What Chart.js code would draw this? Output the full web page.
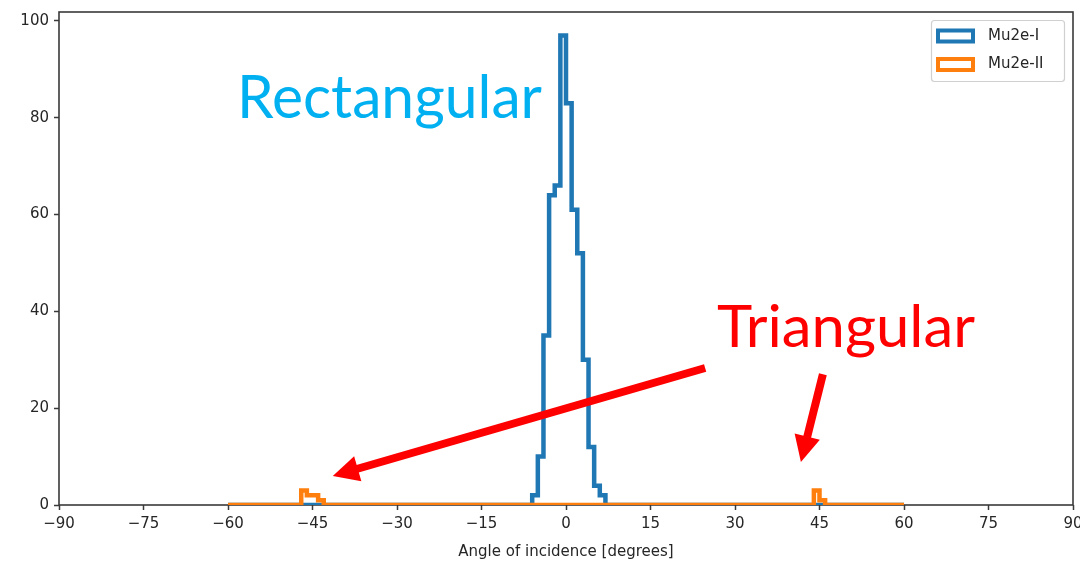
<!DOCTYPE html>
<html><head><meta charset="utf-8">
<script src="https://cdn.jsdelivr.net/npm/chart.js@4/dist/chart.umd.min.js"></script>
<style>html,body{margin:0;padding:0;background:#fff;}</style>
</head><body>
<canvas id="c" width="1080" height="562"></canvas>
<script>
// ---- data (histogram step outlines: bin edges in degrees, counts per bin) ----
const mu2eIEdges  = [-60, -6, -5, -4, -3, -2, -1, 0, 1, 2, 3, 4, 5, 6, 7, 60];
const mu2eICounts = [  0,  2, 10, 35, 64, 66, 97, 83, 61, 52, 30, 12, 4, 2, 0];
const mu2eIIEdges  = [-60, -47, -46, -45, -44, -43, 44, 45, 46, 60];
const mu2eIICounts = [  0,   3,   2,   2,   1,   0,  3,  1,  0];
const seriesLabels = ['Mu2e-I', 'Mu2e-II'];
const xTicks = [-90, -75, -60, -45, -30, -15, 0, 15, 30, 45, 60, 75, 90];
const yTicks = [0, 20, 40, 60, 80, 100];
const xTitle = 'Angle of incidence [degrees]';
const noteTexts = ['Rectangular', 'Triangular'];

// ---- helpers ----
function stepPoints(edges, counts) {
  return edges.map((e, i) => ({ x: e, y: i < counts.length ? counts[i] : 0 }));
}
const BLUE = '#1f77b4', ORANGE = '#ff7f0e', TXT = '#262626';

// annotation layout (data coordinates)
const notes = [
  { text: noteTexts[0], x: -58.4, y: 80.0, color: '#00B0F0', widthPx: 305, capPx: 43 },
  { text: noteTexts[1], x: 26.8,  y: 32.6, color: '#FF0000', widthPx: 258, capPx: 42 }
];
const arrows = [
  { x1: 24.7, y1: 28.3, x2: -41.4, y2: 6.0 },
  { x1: 45.6, y1: 27.0, x2: 41.7,  y2: 8.9 }
];

const framePlugin = {
  id: 'frame',
  beforeDatasetsDraw(chart) {
    const { ctx, chartArea: a } = chart;
    ctx.save();
    ctx.strokeStyle = '#3a3a3a';
    ctx.lineWidth = 1.6;
    ctx.strokeRect(a.left, a.top, a.right - a.left, a.bottom - a.top);
    ctx.restore();
  },
  afterDraw(chart) {
    const { ctx, chartArea: a, scales } = chart;
    // legend
    ctx.save();
    const lx = 931, ly = 20, lw = 133, lh = 61;
    ctx.fillStyle = 'rgba(255,255,255,0.85)';
    ctx.strokeStyle = '#d0d0d0';
    ctx.lineWidth = 1.2;
    ctx.beginPath();
    ctx.roundRect(lx + 0.5, ly + 0.5, lw, lh, 3);
    ctx.fill(); ctx.stroke();
    const colors = [BLUE, ORANGE];
    ctx.font = '15px "DejaVu Sans"';
    ctx.textBaseline = 'middle';
    seriesLabels.forEach((lab, i) => {
      const cy = 36 + i * 28.5;
      ctx.strokeStyle = colors[i];
      ctx.lineWidth = 4;
      ctx.strokeRect(938, cy - 5.5, 35, 11);
      ctx.fillStyle = TXT;
      ctx.fillText(lab, 988, cy);
    });
    ctx.restore();

    // arrows
    const xs = scales.x, ys = scales.y;
    ctx.save();
    ctx.strokeStyle = '#FF0000';
    ctx.fillStyle = '#FF0000';
    arrows.forEach(ar => {
      const x1 = xs.getPixelForValue(ar.x1), y1 = ys.getPixelForValue(ar.y1);
      const x2 = xs.getPixelForValue(ar.x2), y2 = ys.getPixelForValue(ar.y2);
      const ang = Math.atan2(y2 - y1, x2 - x1);
      const headL = 26, headW = 13;
      const bx = x2 - headL * Math.cos(ang), by = y2 - headL * Math.sin(ang);
      ctx.lineWidth = 8;
      ctx.lineCap = 'butt';
      ctx.beginPath(); ctx.moveTo(x1, y1); ctx.lineTo(bx + 2 * Math.cos(ang), by + 2 * Math.sin(ang)); ctx.stroke();
      ctx.beginPath();
      ctx.moveTo(x2, y2);
      ctx.lineTo(bx + headW * Math.sin(ang), by - headW * Math.cos(ang));
      ctx.lineTo(bx - headW * Math.sin(ang), by + headW * Math.cos(ang));
      ctx.closePath(); ctx.fill();
    });
    // texts
    notes.forEach(n => {
      const fs = n.capPx / 0.72;
      ctx.font = fs + 'px Lato';
      const w = ctx.measureText(n.text).width;
      const sx = n.widthPx / w;
      const px = xs.getPixelForValue(n.x), py = ys.getPixelForValue(n.y);
      ctx.save();
      ctx.translate(px, py);
      ctx.scale(sx, 1);
      ctx.fillStyle = n.color;
      ctx.textBaseline = 'alphabetic';
      ctx.textAlign = 'left';
      ctx.fillText(n.text, 0, 0);
      ctx.restore();
    });
    ctx.restore();
  }
};

new Chart(document.getElementById('c'), {
  type: 'line',
  data: {
    datasets: [
      { label: seriesLabels[0], data: stepPoints(mu2eIEdges, mu2eICounts), stepped: 'before',
        borderColor: BLUE, borderWidth: 4.5, pointRadius: 0, fill: false, order: 2, borderJoinStyle: 'miter' },
      { label: seriesLabels[1], data: stepPoints(mu2eIIEdges, mu2eIICounts), stepped: 'before',
        borderColor: ORANGE, borderWidth: 4.5, pointRadius: 0, fill: false, order: 1, borderJoinStyle: 'miter' }
    ]
  },
  options: {
    responsive: false,
    animation: false,
    devicePixelRatio: 1,
    layout: { padding: { left: 0, right: 7, top: 12, bottom: 0 } },
    plugins: { legend: { display: false }, tooltip: { enabled: false } },
    scales: {
      x: {
        type: 'linear', min: -90, max: 90,
        afterBuildTicks: s => { s.ticks = xTicks.map(v => ({ value: v })); },
        afterFit: s => { s.height = 57; s.paddingLeft = 0; s.paddingRight = 0; },
        border: { display: false },
        grid: { display: true, drawOnChartArea: false, drawTicks: true, tickLength: 5, tickColor: '#3a3a3a', tickWidth: 1.5 },
        ticks: { color: TXT, font: { family: 'DejaVu Sans', size: 15 }, padding: 5, maxRotation: 0,
                 callback: v => String(v).replace('-', '\u2212') },
        title: { display: true, text: xTitle, color: TXT, font: { family: 'DejaVu Sans', size: 15 }, padding: { top: 2, bottom: 1 } }
      },
      y: {
        type: 'linear', min: 0, max: 101.85,
        afterBuildTicks: s => { s.ticks = yTicks.map(v => ({ value: v })); },
        afterFit: s => { s.width = 59; s.paddingTop = 0; s.paddingBottom = 0; },
        border: { display: false },
        grid: { display: true, drawOnChartArea: false, drawTicks: true, tickLength: 5, tickColor: '#3a3a3a', tickWidth: 1.5 },
        ticks: { color: TXT, font: { family: 'DejaVu Sans', size: 15 }, padding: 5 }
      }
    }
  },
  plugins: [framePlugin]
});
</script>
</body></html>
